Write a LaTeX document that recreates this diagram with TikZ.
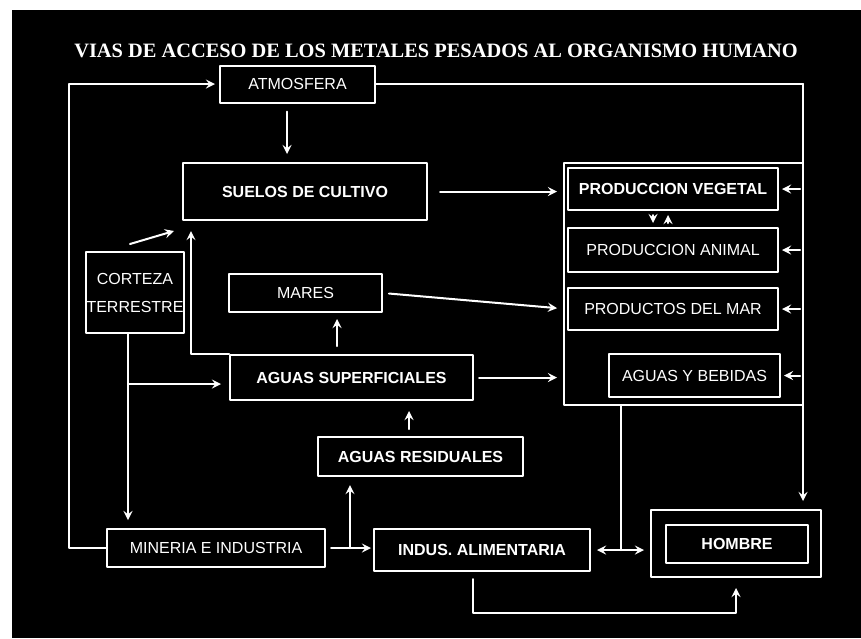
\documentclass[tikz,border=0pt]{standalone}
\usepackage{fontspec}
\setmainfont{Liberation Serif}
\setsansfont{Liberation Sans}
\tikzset{
	caja/.style={draw=white, line width=1pt, text=white, inner sep=1pt, font=\sffamily\fontsize{8}{9}\selectfont},
	cajab/.style={caja, font=\sffamily\bfseries\fontsize{8}{9}\selectfont},
	flecha/.style={->, draw=white, line width=1pt, shorten >=2pt},
	linea/.style={draw=white, line width=1pt},
}
\begin{document}
\begin{tikzpicture}[x=0.5pt, y=-0.5pt, line join=round, line cap=round, >=stealth]
	%%%%%%%%%%%%%%%%%%%%%%%%%%%%%%%%%
	\useasboundingbox (0,0) rectangle (861,638);
	\fill[white] (0,0) rectangle (861,638);
	\fill[black] (12,10) rectangle (861,638);
	%%%%%%%%%%%%%%%%%%%%%%%%%%%%%%%%%
	\node[text=white, font=\bfseries\fontsize{10.2}{12}\selectfont] (titulo) at (436,51) {VIAS DE ACCESO DE LOS METALES PESADOS AL ORGANISMO HUMANO};
	%%%%%%%%%%%%%%%%%%%%%%%%%%%%%%%%%
	\node[caja, minimum width=77.5pt, minimum height=18.5pt] (atm) at (297.5,84) {ATMOSFERA};
	\node[cajab, minimum width=122pt, minimum height=28.5pt] (suelos) at (305,191.5) {SUELOS DE CULTIVO};
	\node[caja, minimum width=49pt, minimum height=40.5pt, align=center, inner xsep=0pt] (corteza) at (135,292.5) {CORTEZA\\[5pt]TERRESTRE};
	\node[caja, minimum width=76.5pt, minimum height=19pt] (mares) at (305.5,293) {MARES};
	\node[cajab, minimum width=121.5pt, minimum height=22.5pt] (agsup) at (351.5,377.5) {AGUAS SUPERFICIALES};
	\node[cajab, minimum width=102.5pt, minimum height=19.5pt] (agres) at (420.5,456.5) {AGUAS RESIDUALES};
	\node[caja, minimum width=109pt, minimum height=19pt] (mineria) at (216,548) {MINERIA E INDUSTRIA};
	\node[cajab, minimum width=108pt, minimum height=21pt] (indus) at (482,550) {INDUS. ALIMENTARIA};
	%%%%%%%%%%%%%%%%%%%%%%%%%%%%%%%%%
	\node[caja, minimum width=119.5pt, minimum height=121pt] (alim) at (683.5,284) {};
	\node[cajab, minimum width=105pt, minimum height=21pt] (pveg) at (673,189) {PRODUCCION VEGETAL};
	\node[caja, minimum width=105pt, minimum height=22pt] (panim) at (673,250) {PRODUCCION ANIMAL};
	\node[caja, minimum width=105pt, minimum height=21pt] (pmar) at (673,309) {PRODUCTOS DEL MAR};
	\node[caja, minimum width=85.5pt, minimum height=21.5pt] (agbeb) at (694.5,375.5) {AGUAS Y BEBIDAS};
	\node[caja, minimum width=85pt, minimum height=33.5pt] (hombreext) at (736,543.5) {};
	\node[cajab, minimum width=71pt, minimum height=19pt] (hombre) at (737,544) {HOMBRE};
	%%%%%%%%%%%%%%%%%%%%%%%%%%%%%%%%%
	\coordinate (rc) at (803,0 |- atm.east);
	\coordinate (cb) at ([xshift=-3.5pt]corteza.south);
	%%%%%%%%%%%%%%%%%%%%%%%%%%%%%%%%%
	\draw[flecha, shorten >=2pt] (mineria.west) -- ++(-37,0) |- (atm.west);
	\draw[linea] (atm.east) -- (rc);
	\draw[flecha, shorten >=4pt] (rc) -- (rc |- hombreext.north);
	\foreach \n in {pveg,panim,pmar,agbeb}
		\draw[flecha, shorten <=1.5pt, shorten >=1.5pt] (\n.east -| rc) -- (\n.east);
	\draw[flecha, shorten <=4pt, shorten >=4pt] (atm.south -| 287,0) -- (suelos.north -| 287,0);
	\draw[flecha, shorten <=6pt, shorten >=5pt] (suelos.east) -- (suelos.east -| pveg.west);
	\draw[flecha, shorten <=2pt] (pveg.south -| 653,0) -- (panim.north -| 653,0);
	\draw[flecha, shorten <=2pt] (panim.north -| 668,0) -- (pveg.south -| 668,0);
	%%%%%%%%%%%%%%%%%%%%%%%%%%%%%%%%%
	\draw[flecha, shorten >=0pt] ([shift={(-5,-7)}]corteza.north) -- ([shift={(-8,10)}]suelos.south west);
	\draw[flecha, shorten >=0pt] (agsup.north west) -| ([shift={(9,10)}]suelos.south west);
	\draw[flecha, shorten >=4pt] (cb) -- (cb |- mineria.north);
	\draw[flecha, shorten >=4pt] (cb |- 0,384) -- (agsup.west |- 0,384);
	\draw[flecha, shorten <=4pt, shorten >=3pt] (agsup.north -| 337,0) -- (mares.south -| 337,0);
	\draw[flecha, shorten <=3pt, shorten >=5pt] (mares.east) -- (pmar.west);
	\draw[flecha, shorten <=2.5pt, shorten >=3pt] (agsup.east) -- (agsup.east -| alim.west);
	\draw[flecha, shorten <=3.5pt, shorten >=5pt] (agres.north -| 409,0) -- (agsup.south -| 409,0);
	%%%%%%%%%%%%%%%%%%%%%%%%%%%%%%%%%
	\draw[flecha, shorten <=2.5pt, shorten >=1pt] (mineria.east) -- (mineria.east -| indus.west);
	\draw[flecha, shorten >=4pt] (350,0 |- mineria.east) -- (350,0 |- agres.south);
	\draw[linea] (alim.south -| 621,0) -- (621,0 |- indus.east);
	\draw[flecha, <->, shorten <=3pt, shorten >=3pt] (indus.east) -- (indus.east -| hombreext.west);
	\draw[flecha, shorten <=3.5pt, shorten >=5pt] (473,0 |- indus.south) -- (473,613) -| (hombreext.south);
	%%%%%%%%%%%%%%%%%%%%%%%%%%%%%%%%%
\end{tikzpicture}
\end{document}
